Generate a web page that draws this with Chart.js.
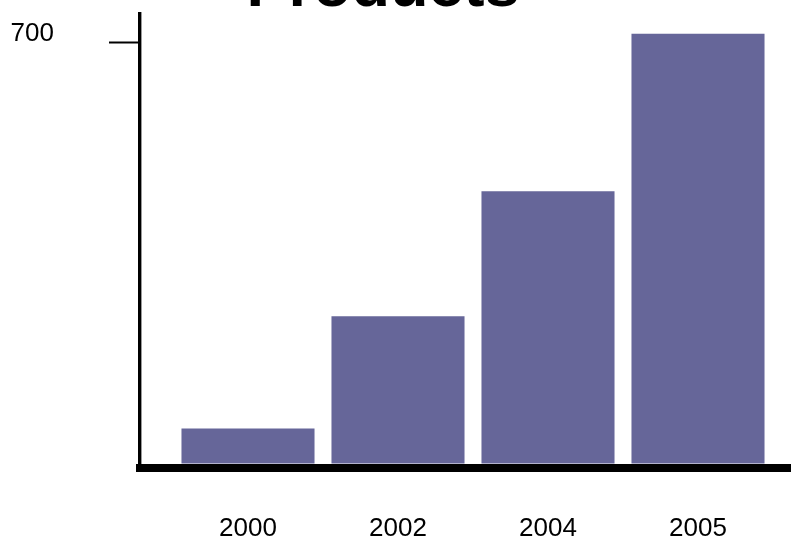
<!DOCTYPE html>
<html lang="en">
<head>
    <meta charset="UTF-8">
    <title>Products</title>
    <script src="https://cdn.jsdelivr.net/npm/chart.js@4"></script>
    <style>
        html, body { margin: 0; padding: 0; background: #fff; }
        #wrap { width: 791px; height: 540px; position: relative; }
    </style>
</head>
<body>
    <div id="wrap"><canvas id="myChart"></canvas></div>

    <script>
        // data
        var years = ['2000', '2002', '2004', '2005'];
        var products = [58, 245, 453, 715];
        var yTicks = [700];
        var chartTitle = 'Products';

        // title sits partly above the canvas, draw it by hand
        var titlePlugin = {
            id: 'cutTitle',
            afterDraw: function (chart) {
                var ctx = chart.ctx;
                ctx.save();
                ctx.font = 'bold 63px "Liberation Sans", Arial, sans-serif';
                ctx.fillStyle = '#000';
                ctx.textAlign = 'center';
                ctx.textBaseline = 'alphabetic';
                ctx.fillText(chartTitle, 383, 6);
                ctx.restore();
            }
        };

        var ctx = document.getElementById('myChart').getContext('2d');
        var myChart = new Chart(ctx, {
            type: 'bar',
            data: {
                datasets: [{
                    label: chartTitle,
                    data: products.map(function (v, i) { return { x: i, y: v }; }),
                    backgroundColor: '#666699',
                    borderWidth: 0,
                    barPercentage: 0.887,
                    categoryPercentage: 1
                }]
            },
            options: {
                responsive: true,
                maintainAspectRatio: false,
                animation: false,
                layout: { padding: { top: 14, left: 0, right: 0, bottom: 0 } },
                plugins: {
                    legend: { display: false },
                    tooltip: { enabled: false },
                    title: { display: false }
                },
                scales: {
                    x: {
                        type: 'linear',
                        offset: false,
                        min: -0.72,
                        max: 3.62,
                        afterBuildTicks: function (scale) {
                            scale.ticks = years.map(function (y, i) { return { value: i }; });
                        },
                        afterFit: function (scale) {
                            scale.height = 72.5;
                            scale.paddingLeft = 0;
                            scale.paddingRight = 0;
                        },
                        grid: { display: false, drawTicks: false },
                        border: { display: true, color: '#000', width: 8 },
                        ticks: {
                            padding: 46,
                            color: '#000',
                            font: { family: '"Liberation Sans", Arial, sans-serif', size: 26 },
                            maxRotation: 0,
                            callback: function (v) { return years[v]; }
                        }
                    },
                    y: {
                        min: -6.7,
                        max: 748,
                        afterBuildTicks: function (scale) {
                            scale.ticks = yTicks.map(function (v) { return { value: v }; });
                        },
                        afterFit: function (scale) {
                            scale.width = 140;
                            scale.paddingTop = 0;
                            scale.paddingBottom = 0;
                        },
                        grid: {
                            drawOnChartArea: false,
                            drawTicks: true,
                            tickLength: 31,
                            tickWidth: 2,
                            tickColor: '#000'
                        },
                        border: { display: true, color: '#000', width: 3.4 },
                        ticks: {
                            padding: 55,
                            labelOffset: -9,
                            color: '#000',
                            font: { family: '"Liberation Sans", Arial, sans-serif', size: 26 }
                        }
                    }
                }
            },
            plugins: [titlePlugin]
        });
    </script>
</body>
</html>
